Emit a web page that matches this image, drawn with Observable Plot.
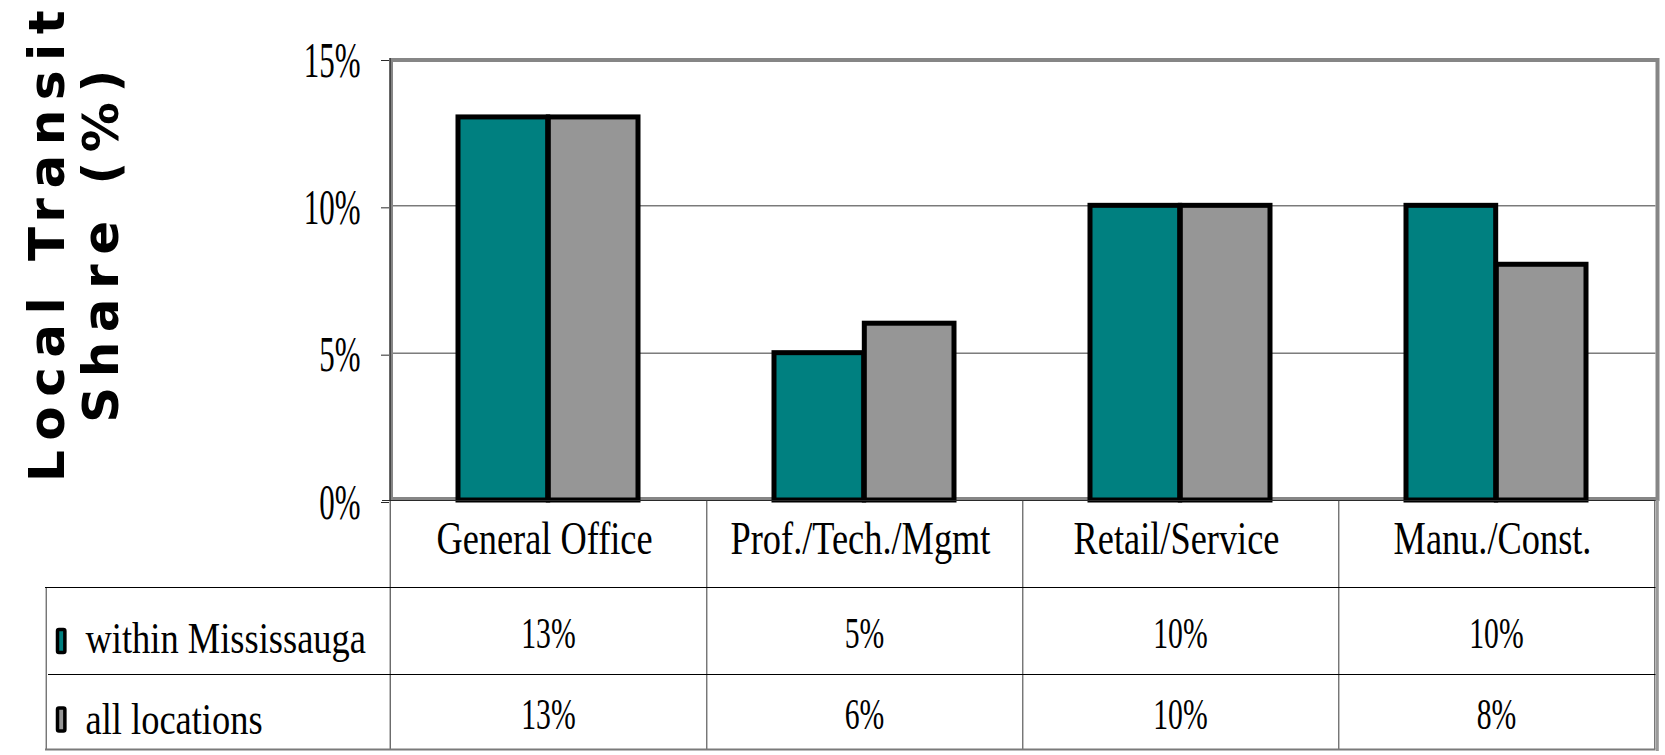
<!DOCTYPE html>
<html>
<head>
<meta charset="utf-8">
<script src="https://cdn.jsdelivr.net/npm/d3@7"></script>
<script src="https://cdn.jsdelivr.net/npm/@observablehq/plot@0.6"></script>
<style>
  html, body { margin: 0; padding: 0; background: #fff; overflow: hidden; }
  #chart svg { display: block; }
</style>
</head>
<body>
<div id="chart"></div>
<script>
// Local transit mode share by employment type
const categories = ["General Office", "Prof./Tech./Mgmt", "Retail/Service", "Manu./Const."];
const withinMississauga = [13, 5, 10, 10];
const allLocations = [13, 6, 10, 8];
const seriesNames = ["within Mississauga", "all locations"];
const seriesColors = ["#008080", "#969696"];
const yTicks = [0, 5, 10, 15];
const yTitle = "Local Transit\nShare (%)";

const seriesValues = [withinMississauga, allLocations];
const rows = seriesNames.map((series, s) =>
  categories.map((category, i) => ({series, category, value: seriesValues[s][i]}))
);

// layout
const width = 1665, height = 755;
const margin = {top: 58, right: 9.5, bottom: 255, left: 389};
const plotH = height - margin.top - margin.bottom;
const bw = (width - margin.left - margin.right) / categories.length;
const groupInset = 68;
// data table under the baseline (pixel offsets below y = 0)
const headerLine = 87, rowLine = 174, tableBottom = 249;
const tableLeft = 45;
const lead = tableLeft - margin.left;
const rowText = [132.6, 213.9];
const legendText = [137.6, 218.6];
const swatchTop = [129.5, 208];
const swatchH = 23, swatchW = 8, swatchX = 56.5;

const serif = "'Liberation Serif', 'Times New Roman', serif";
const first = () => categories[0];
const last = () => categories[categories.length - 1];

const plot = Plot.plot({
  width, height,
  marginTop: margin.top, marginRight: margin.right,
  marginBottom: margin.bottom, marginLeft: margin.left,
  style: {fontFamily: serif, fontSize: "50px", background: "white", color: "black"},
  x: {domain: categories, padding: 0, axis: null},
  y: {domain: [0, 15], axis: null},
  marks: [
    // gridlines
    Plot.ruleY([5, 10], {stroke: "#3a3a3a", strokeWidth: 1}),
    // plot area border
    Plot.frame({stroke: "#868686", strokeWidth: 4, insetTop: 1.5, insetLeft: 1.5, insetBottom: 1.5, insetRight: -1.5}),
    // grouped bars
    ...rows.map((data, s) => Plot.barY(data, {
      x: "category", y: "value",
      fill: seriesColors[s], stroke: "black", strokeWidth: 5,
      insetLeft: s === 0 ? groupInset : bw / 2,
      insetRight: s === 0 ? bw / 2 : groupInset
    })),
    // axis lines
    Plot.ruleY([0], {stroke: "#2a2a2a", insetLeft: -7}),
    Plot.ruleX([0], {x: first, dx: -bw / 2, stroke: "#2a2a2a", insetBottom: -tableBottom}),
    Plot.axisY(yTicks, {
      tickSize: 8, tickPadding: 21, tickFormat: d => d + "%", label: null,
      dy: 2, stroke: "#2a2a2a", fontSize: 50, fontFamily: serif
    }),
    // y title
    Plot.text([yTitle], {
      frameAnchor: "left", rotate: -90, dx: 117 - margin.left, dy: -38,
      textAnchor: "middle", lineAnchor: "bottom", lineHeight: 1.08,
      fontFamily: "'DejaVu Sans', sans-serif", fontWeight: "bold", fontSize: 50,
      ariaDescription: "y title"
    }),
    // data table: column dividers
    Plot.ruleX(categories, {x: d => d, dx: bw / 2, insetTop: plotH, insetBottom: -tableBottom, stroke: "#3a3a3a"}),
    Plot.ruleX([0], {x: last, dx: bw / 2 + 2.5, insetTop: plotH, insetBottom: -tableBottom - 2, stroke: "#9a9a9a", strokeWidth: 3}),
    Plot.ruleX([0], {x: first, dx: -bw / 2 + lead, insetTop: plotH + headerLine, insetBottom: -tableBottom, stroke: "#3a3a3a"}),
    // data table: row lines
    Plot.ruleY([0], {dy: headerLine, insetLeft: lead, stroke: "black"}),
    Plot.ruleY([0], {dy: rowLine, insetLeft: lead + 3, stroke: "black"}),
    Plot.ruleY([0], {dy: tableBottom, insetLeft: lead, stroke: "#7a7a7a", strokeWidth: 2}),
    // category labels
    Plot.text(categories, {x: d => d, y: 0, dx: -4, dy: 38.5, fontSize: 46, ariaDescription: "category label"}),
    // values
    ...rows.map((data, s) => Plot.text(data, {
      x: "category", y: 0, dy: rowText[s], text: d => d.value + "%",
      fontSize: 45, ariaDescription: "value label"
    })),
    // legend keys
    ...seriesNames.map((name, s) => Plot.barY([name], {
      x: first, y1: 0, y2: 0,
      insetLeft: swatchX - margin.left, insetRight: bw + margin.left - swatchX - swatchW,
      insetTop: swatchTop[s], insetBottom: -(swatchTop[s] + swatchH),
      fill: seriesColors[s], stroke: "black", strokeWidth: 3.5, rx: 1.5
    })),
    ...seriesNames.map((name, s) => Plot.text([name], {
      y: 0, frameAnchor: "left", dx: 85 - margin.left, dy: legendText[s],
      textAnchor: "start", fontSize: 45, ariaDescription: "legend label"
    }))
  ]
});

document.getElementById("chart").append(plot);

// condensed lettering
function squeeze(selector, ratio) {
  plot.querySelectorAll(selector).forEach(t => {
    const w = t.getComputedTextLength();
    t.setAttribute("textLength", (w * ratio).toFixed(1));
    t.setAttribute("lengthAdjust", "spacingAndGlyphs");
  });
}
squeeze('g[aria-label="y-axis tick label"] text', 0.62);
squeeze('g[aria-description="category label"] text', 0.79);
squeeze('g[aria-description="value label"] text', 0.66);
squeeze('g[aria-description="legend label"] text', 0.81);
// tracked, heavy axis title
plot.querySelectorAll('g[aria-description="y title"] text').forEach(t => t.style.letterSpacing = "9.5px");
</script>
</body>
</html>
